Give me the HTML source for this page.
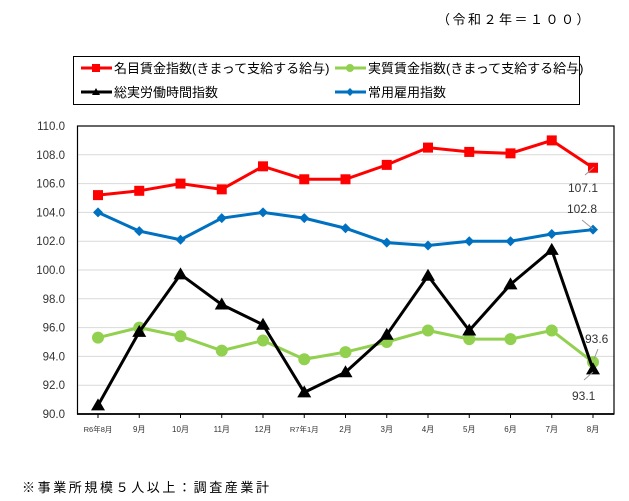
<!DOCTYPE html>
<html><head><meta charset="utf-8"><style>
body{margin:0;background:#fff;width:629px;height:496px;overflow:hidden}
svg text{font-family:"Liberation Sans","Noto Sans CJK JP",sans-serif}
</style></head><body>
<svg id="s" width="629" height="496" xmlns="http://www.w3.org/2000/svg">
<text x="437" y="24" font-size="13" fill="#000" letter-spacing="2.5">（令和２年＝１００）</text>
<rect x="73.5" y="56.5" width="506" height="48" fill="#fff" stroke="#000"/>
<line x1="81" y1="68" x2="112" y2="68" stroke="#f00" stroke-width="3"/><rect x="92" y="64" width="8" height="8" fill="#f00"/>
<text x="114" y="73" font-size="13">名目賃金指数(きまって支給する給与)</text>
<line x1="335" y1="68" x2="366" y2="68" stroke="#92d050" stroke-width="3"/><circle cx="350" cy="68" r="4" fill="#92d050"/>
<text x="368" y="73" font-size="13">実質賃金指数(きまって支給する給与)</text>
<line x1="81" y1="92" x2="112" y2="92" stroke="#000" stroke-width="3"/><polygon points="96,88 100,95 92,95" fill="#000"/>
<text x="114" y="97" font-size="13">総実労働時間指数</text>
<line x1="335" y1="92" x2="366" y2="92" stroke="#0070c0" stroke-width="3"/><polygon points="350,88 354,92 350,96 346,92" fill="#0070c0"/>
<text x="368" y="97" font-size="13">常用雇用指数</text>
<g id="g"></g>
<text x="22" y="492" font-size="13" letter-spacing="2.6">※事業所規模５人以上：調査産業計</text>
</svg>
<script>
const g=document.getElementById('g');let h='';
const Y=v=>414-(v-90)*14.4, X=i=>98+i*41.25;
for(let v=90;v<=110;v+=2){const y=Y(v);if(v>90&&v<110)h+=`<line x1="77" y1="${y}" x2="614" y2="${y}" stroke="#d9d9d9"/>`;
h+=`<text x="65" y="${y+4}" font-size="11.5" text-anchor="end" fill="#333">${v.toFixed(1)}</text>`;}
h+=`<rect x="77.5" y="126" width="536.5" height="288" fill="none" stroke="#000" stroke-width="1.2"/><line x1="77" y1="414" x2="614" y2="414" stroke="#000" stroke-width="1.8"/>`;
const L=['R6年8月','9月','10月','11月','12月','R7年1月','2月','3月','4月','5月','6月','7月','8月'];
L.forEach((l,i)=>{h+=`<line x1="${X(i)}" y1="414" x2="${X(i)}" y2="418" stroke="#000"/><text x="${X(i)}" y="432" font-size="${l.length>3?7.5:8}" text-anchor="middle" fill="#333">${l}</text>`});
const S=[
['#f00','sq',[105.2,105.5,106.0,105.6,107.2,106.3,106.3,107.3,108.5,108.2,108.1,109.0,107.1]],
['#92d050','ci',[95.3,96.0,95.4,94.4,95.1,93.8,94.3,95.0,95.8,95.2,95.2,95.8,93.6]],
['#0070c0','di',[104.0,102.7,102.1,103.6,104.0,103.6,102.9,101.9,101.7,102.0,102.0,102.5,102.8]],
['#000','tr',[90.6,95.7,99.7,97.6,96.2,91.5,92.9,95.5,99.6,95.8,99.0,101.4,93.1]]];
S.forEach(([c,m,d])=>{h+=`<polyline fill="none" stroke="${c}" stroke-width="3" points="${d.map((v,i)=>X(i)+','+Y(v)).join(' ')}"/>`;
d.forEach((v,i)=>{const x=X(i),y=Y(v);
if(m=='sq')h+=`<rect x="${x-5}" y="${y-5}" width="10" height="10" fill="${c}"/>`;
if(m=='ci')h+=`<circle cx="${x}" cy="${y}" r="6" fill="${c}"/>`;
if(m=='di')h+=`<polygon points="${x},${y-5} ${x+5},${y} ${x},${y+5} ${x-5},${y}" fill="${c}"/>`;
if(m=='tr')h+=`<polygon points="${x},${y-7} ${x+7},${y+5} ${x-7},${y+5}" fill="${c}"/>`;});});
h+=`<line x1="585" y1="175" x2="594" y2="167" stroke="#999"/><text x="568" y="192" font-size="12" fill="#333">107.1</text>`;
h+=`<text x="567" y="213" font-size="12" fill="#333">102.8</text><line x1="582" y1="220" x2="593" y2="229" stroke="#999"/>`;
h+=`<text x="585" y="343" font-size="12" fill="#333">93.6</text><line x1="598" y1="349" x2="594" y2="359" stroke="#999"/>`;
h+=`<text x="572" y="400" font-size="12" fill="#333">93.1</text><line x1="584" y1="380" x2="593" y2="372" stroke="#999"/>`;
g.innerHTML=h;
</script>
</body></html>
